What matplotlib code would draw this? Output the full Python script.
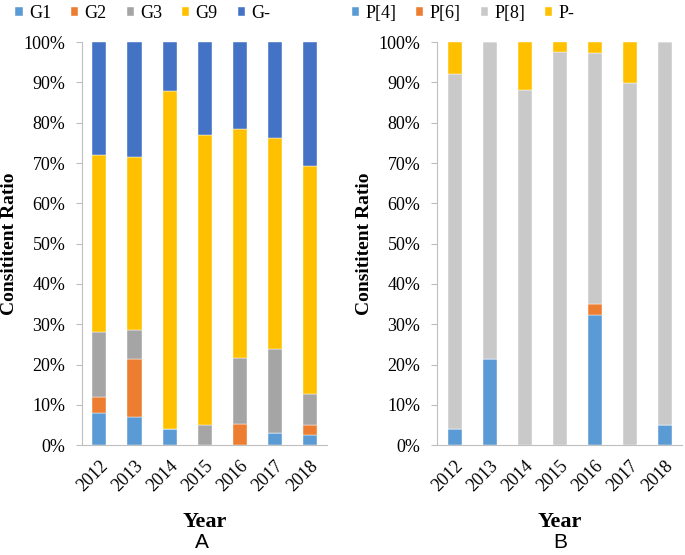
import matplotlib.pyplot as plt
import numpy as np

years = ['2012', '2013', '2014', '2015', '2016', '2017', '2018']

# panel A, percent of each year
g_labels = ['G1', 'G2', 'G3', 'G9', 'G-']
g1 = [7.9, 7.0, 4.0, 0.0, 0.0, 2.9, 2.5]
g2 = [4.1, 14.4, 0.0, 0.0, 5.3, 0.0, 2.5]
g3 = [16.0, 7.2, 0.0, 5.0, 16.3, 20.9, 7.8]
g9 = [44.0, 42.8, 84.0, 71.9, 56.8, 52.3, 56.4]
g_minus = [28.0, 28.6, 12.0, 23.1, 21.6, 23.9, 30.8]

# panel B
p_labels = ['P[4]', 'P[6]', 'P[8]', 'P-']
p4 = [3.9, 21.4, 0.0, 0.0, 32.4, 0.0, 5.0]
p6 = [0.0, 0.0, 0.0, 0.0, 2.7, 0.0, 0.0]
p8 = [88.2, 78.6, 88.2, 97.6, 62.3, 89.8, 95.0]
p_minus = [7.9, 0.0, 11.8, 2.4, 2.6, 10.2, 0.0]

g_colors = ['#5B9BD5', '#ED7D31', '#A5A5A5', '#FFC000', '#4472C4']
p_colors = ['#5B9BD5', '#ED7D31', '#C9C9C9', '#FFC000']

serif = 'Liberation Serif'
fig = plt.figure(figsize=(6.85, 5.55), dpi=100)
axA = fig.add_axes([0.1197, 0.198, 0.3577, 0.726])
axB = fig.add_axes([0.638, 0.198, 0.3577, 0.726])


def stacked(ax, series, labels, colors):
    x = np.arange(len(years))
    bottom = np.zeros(len(years))
    for vals, lab, col in zip(series, labels, colors):
        ax.bar(x, vals, 0.4, bottom=bottom, color=col, label=lab,
               edgecolor='white', linewidth=0.3)
        bottom += np.array(vals)
    ax.set_xlim(-0.5, len(years) - 0.5)
    ax.set_ylim(0, 100)
    ax.set_yticks(np.arange(0, 101, 10))
    ax.set_yticklabels([f'{v}%' for v in range(0, 101, 10)],
                       fontfamily=serif, fontsize=13)
    ax.set_xticks(x)
    ax.set_xticklabels(years, rotation=45, ha='right', va='top',
                       rotation_mode='anchor', fontfamily=serif, fontsize=13)
    ax.tick_params(axis='x', length=0, pad=9)
    ax.tick_params(axis='y', length=4, color='#BFBFBF', pad=8)
    for s in ['top', 'right']:
        ax.spines[s].set_visible(False)
    for s in ['left', 'bottom']:
        ax.spines[s].set_color('#BFBFBF')
    ax.set_ylabel('Consititent Ratio', fontfamily=serif, fontsize=14,
                  fontweight='bold', labelpad=4)
    ax.set_xlabel('Year', fontfamily=serif, fontsize=16, fontweight='bold',
                  labelpad=12)


stacked(axA, [g1, g2, g3, g9, g_minus], g_labels, g_colors)
stacked(axB, [p4, p6, p8, p_minus], p_labels, p_colors)

legend_kw = dict(loc='upper left', ncol=5, frameon=False, handlelength=0.4,
                 handleheight=0.4, handletextpad=0.35, columnspacing=1.1,
                 borderaxespad=0, prop={'family': serif, 'size': 13})
axA.legend(bbox_to_anchor=(0.012, 1.004), bbox_transform=fig.transFigure,
           **legend_kw)
axB.legend(bbox_to_anchor=(0.503, 1.004), bbox_transform=fig.transFigure,
           **legend_kw)

fig.text(0.295, 0.012, 'A', fontfamily='Liberation Sans', fontsize=15, ha='center')
fig.text(0.818, 0.012, 'B', fontfamily='Liberation Sans', fontsize=15, ha='center')

fig.savefig('out.png', dpi=100)
